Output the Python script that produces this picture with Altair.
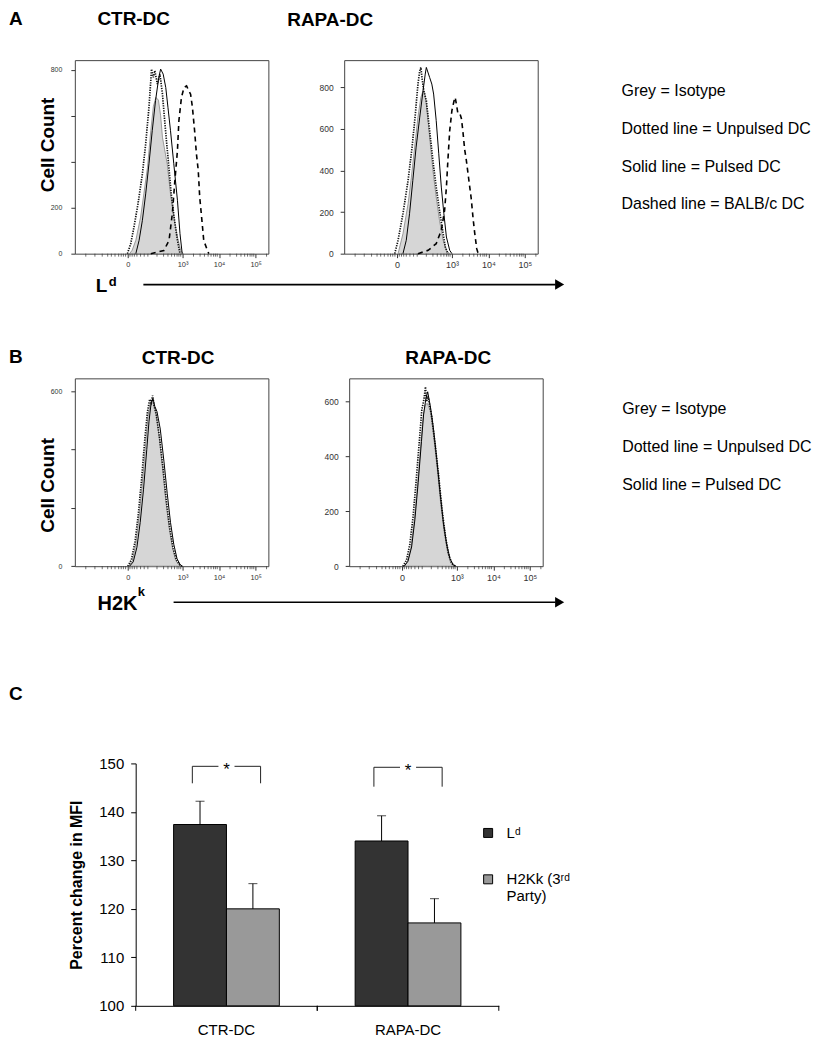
import altair as alt
import pandas as pd

FONT = "Liberation Sans"

# ---------------- histogram data (display position on biexponential axis, cell count) -------------
# Panel A, CTR-DC
a_ctr_iso_u = [1.55, 1.62, 1.72, 1.85, 1.94, 2.04, 2.13, 2.20, 2.27, 2.34, 2.40, 2.45, 2.58, 2.67, 2.76, 2.86, 2.95, 3.02]
a_ctr_iso_n = [0, 15, 58, 159, 260, 376, 535, 640, 680, 668, 600, 506, 391, 260, 159, 72, 14, 0]
a_ctr_unp_u = [1.49, 1.58, 1.67, 1.78, 1.90, 1.99, 2.08, 2.13, 2.15, 2.20, 2.24, 2.31, 2.38, 2.45, 2.51, 2.60, 2.69, 2.78, 2.86, 2.93]
a_ctr_unp_n = [0, 43, 116, 217, 347, 477, 637, 752, 803, 767, 796, 738, 781, 694, 579, 420, 260, 145, 58, 0]
a_ctr_pul_u = [1.72, 1.81, 1.90, 1.99, 2.08, 2.17, 2.26, 2.35, 2.40, 2.47, 2.54, 2.60, 2.67, 2.76, 2.86, 2.93, 2.99]
a_ctr_pul_n = [0, 58, 145, 260, 391, 535, 666, 767, 803, 781, 723, 637, 535, 391, 232, 87, 0]
a_ctr_bal_u = [2.13, 2.49, 2.63, 2.72, 2.79, 2.86, 2.90, 2.97, 3.04, 3.11, 3.17, 3.22, 3.27, 3.33, 3.38, 3.43, 3.47, 3.53, 3.58, 3.68, 3.72]
a_ctr_bal_n = [0, 14, 58, 174, 318, 449, 579, 680, 723, 730, 709, 694, 637, 535, 434, 362, 246, 145, 58, 14, 0]

# Panel A, RAPA-DC
a_rap_iso_u = [1.525, 1.66, 1.80, 1.89, 1.98, 2.07, 2.15, 2.21, 2.25, 2.30, 2.39, 2.48, 2.57, 2.66, 2.76, 2.85, 2.94]
a_rap_iso_n = [0, 96, 240, 368, 512, 656, 751, 783, 775, 719, 560, 400, 272, 160, 64, 16, 0]
a_rap_unp_u = [1.435, 1.525, 1.66, 1.80, 1.91, 2.00, 2.07, 2.12, 2.15, 2.18, 2.23, 2.30, 2.39, 2.48, 2.57, 2.66, 2.76, 2.82, 2.89]
a_rap_unp_n = [0, 64, 192, 352, 512, 672, 815, 879, 895, 847, 783, 735, 591, 448, 320, 208, 96, 32, 0]
a_rap_pul_u = [1.66, 1.75, 1.84, 1.93, 2.02, 2.12, 2.21, 2.27, 2.30, 2.39, 2.45, 2.50, 2.57, 2.64, 2.71, 2.78, 2.85, 2.94, 3.00]
a_rap_pul_n = [0, 64, 192, 352, 512, 656, 783, 863, 895, 847, 815, 767, 640, 480, 320, 192, 80, 16, 0]
a_rap_bal_u = [2.07, 2.35, 2.57, 2.71, 2.80, 2.85, 2.89, 2.94, 3.00, 3.06, 3.09, 3.13, 3.16, 3.21, 3.26, 3.30, 3.35, 3.39, 3.46, 3.53, 3.58, 3.62, 3.68, 3.72]
a_rap_bal_n = [0, 16, 48, 112, 208, 320, 448, 591, 687, 735, 751, 711, 679, 679, 650, 590, 500, 456, 360, 264, 170, 106, 24, 0]

# Panel B, CTR-DC
b_ctr_iso_u = [1.53, 1.63, 1.72, 1.81, 1.90, 1.99, 2.05, 2.11, 2.17, 2.26, 2.35, 2.45, 2.54, 2.63, 2.72, 2.81, 2.90, 2.95]
b_ctr_iso_n = [0, 20, 77, 169, 283, 420, 511, 556, 568, 534, 454, 340, 226, 134, 66, 20, 5, 0]
b_ctr_unp_u = [1.50, 1.60, 1.70, 1.79, 1.88, 1.97, 2.04, 2.10, 2.14, 2.18, 2.22, 2.28, 2.37, 2.47, 2.56, 2.65, 2.74, 2.83, 2.92, 2.98]
b_ctr_unp_n = [0, 22, 85, 180, 300, 440, 530, 572, 560, 585, 550, 520, 440, 330, 220, 130, 62, 22, 5, 0]
b_ctr_pul_u = [1.55, 1.65, 1.75, 1.84, 1.93, 2.02, 2.08, 2.14, 2.19, 2.24, 2.30, 2.39, 2.49, 2.58, 2.67, 2.76, 2.85, 2.94, 3.00]
b_ctr_pul_n = [0, 15, 65, 150, 262, 400, 495, 560, 575, 548, 530, 470, 360, 250, 150, 75, 25, 4, 0]

# Panel B, RAPA-DC
b_rap_iso_u = [1.55, 1.65, 1.74, 1.83, 1.92, 2.01, 2.07, 2.13, 2.19, 2.28, 2.37, 2.47, 2.56, 2.65, 2.74, 2.83, 2.92]
b_rap_iso_n = [0, 18, 67, 164, 297, 442, 539, 588, 594, 564, 467, 345, 224, 127, 55, 12, 0]
b_rap_unp_u = [1.52, 1.62, 1.71, 1.80, 1.89, 1.98, 2.04, 2.10, 2.14, 2.17, 2.21, 2.25, 2.31, 2.40, 2.50, 2.59, 2.68, 2.77, 2.86, 2.95]
b_rap_unp_n = [0, 22, 78, 180, 320, 470, 570, 610, 654, 600, 620, 590, 545, 450, 330, 210, 115, 45, 10, 0]
b_rap_pul_u = [1.56, 1.66, 1.76, 1.85, 1.94, 2.03, 2.09, 2.15, 2.20, 2.25, 2.30, 2.36, 2.45, 2.54, 2.63, 2.72, 2.81, 2.90, 2.98]
b_rap_pul_n = [0, 18, 70, 170, 305, 455, 555, 610, 636, 600, 560, 500, 390, 270, 160, 80, 28, 5, 0]

# axis ticks of the flow-cytometry axis
major_u = [1.5, 3, 4, 5]
major_lab = ["0", "10³", "10⁴", "10⁵"]
minor_u = [0.35, 0.6, 0.8, 0.95, 1.05, 1.15, 1.25, 1.32, 1.38, 1.44, 1.56, 1.62, 1.68, 1.75, 1.85,
           1.95, 2.05, 2.3, 2.48, 2.6, 2.7, 2.78, 2.85, 2.9, 2.95,
           3.30, 3.48, 3.60, 3.70, 3.78, 3.85, 3.90, 3.95,
           4.30, 4.48, 4.60, 4.70, 4.78, 4.85, 4.90, 4.95, 5.30]

legend_a_lines = ["Grey = Isotype", "Dotted line = Unpulsed DC", "Solid line = Pulsed DC", "Dashed line = BALB/c DC"]
legend_b_lines = ["Grey = Isotype", "Dotted line = Unpulsed DC", "Solid line = Pulsed DC"]

# ---------------- panel C data -------------
groups = ["CTR-DC", "RAPA-DC"]
series = ["Ld", "H2Kk"]
ld_mean = [137.4, 134.0]
ld_err = [4.8, 5.2]
h2_mean = [120.0, 117.1]
h2_err = [5.2, 5.0]
bracket_top = [149.4, 149.2]
bracket_foot = [145.9, 145.2]
bar_colors = ["#333333", "#999999"]


# ---------------- helpers -------------
def blank(w, h):
    return alt.Chart(alt.Data(values=[{}])).mark_rect(opacity=0).encode(
        x=alt.value(0), x2=alt.value(w), y=alt.value(0), y2=alt.value(h))


def txt(s, x, y, size=16, weight="normal", align="left", angle=0, baseline="alphabetic"):
    return alt.Chart(alt.Data(values=[{}])).mark_text(
        text=s, font=FONT, fontSize=size, fontWeight=weight, align=align,
        baseline=baseline, angle=angle, color="black"
    ).encode(x=alt.value(x), y=alt.value(y))


def panel(w, h, *layers):
    return alt.layer(blank(w, h), *layers).properties(width=w, height=h)


def arrow(x1, x2, y):
    line = alt.Chart(alt.Data(values=[{}])).mark_rule(color="black", strokeWidth=1.6).encode(
        x=alt.value(x1), x2=alt.value(x2), y=alt.value(y))
    head = alt.Chart(alt.Data(values=[{}])).mark_point(
        shape="triangle-right", filled=True, color="black", opacity=1, size=110).encode(
        x=alt.value(x2 + 4), y=alt.value(y))
    return [line, head]


def xlabel_expr():
    e = "''"
    for v, l in reversed(list(zip(major_u, major_lab))):
        e = f"datum.value == {v} ? '{l}' : ({e})"
    return e


def hist(curves, ymax, yticks, yshown, lab_size, lab_pad, h):
    rows = []
    for name, (us, ns) in curves.items():
        for a, b in zip(us, ns):
            rows.append({"u": a, "n": b, "curve": name})
    df = pd.DataFrame(rows)
    xaxis = alt.Axis(values=major_u, labelExpr=xlabel_expr(), title=None, grid=False, domain=False,
                     tickSize=4, tickColor="#333", labelFontSize=lab_size + 0.5, labelColor="#333",
                     labelPadding=3, labelFont=FONT)
    shown = ",".join(str(v) for v in yshown)
    yaxis = alt.Axis(values=yticks, labelExpr=f"indexof([{shown}], datum.value) >= 0 ? datum.label : ''",
                     title=None, grid=False, domain=False, tickSize=4, tickColor="#333",
                     labelFontSize=lab_size, labelColor="#333", labelPadding=lab_pad, labelFont=FONT)
    xs = alt.Scale(domain=[0.05, 5.35], nice=False, zero=False)
    ys = alt.Scale(domain=[0, ymax], nice=False, zero=False)
    xenc = alt.X("u:Q", scale=xs, axis=xaxis)
    yenc = alt.Y("n:Q", scale=ys, axis=yaxis)
    base = alt.Chart(df)
    layers = [
        base.transform_filter("datum.curve == 'iso'").mark_area(
            fill="#d6d6d6", stroke="#777", strokeWidth=0.7).encode(x=xenc, y=yenc),
        base.transform_filter("datum.curve == 'unp'").mark_line(
            color="#111", strokeWidth=1.7, strokeDash=[1.3, 1.2]).encode(x=xenc, y=yenc),
        base.transform_filter("datum.curve == 'pul'").mark_line(
            color="black", strokeWidth=1.0).encode(x=xenc, y=yenc),
    ]
    if "bal" in curves:
        layers.append(base.transform_filter("datum.curve == 'bal'").mark_line(
            color="black", strokeWidth=1.6, strokeDash=[5, 4]).encode(x=xenc, y=yenc))
    layers.append(alt.Chart(pd.DataFrame({"u": minor_u})).mark_rule(color="#333", strokeWidth=0.7).encode(
        x=xenc, y=alt.value(h), y2=alt.value(h + 3)))
    return alt.layer(*layers).properties(
        width=194, height=h, view=alt.ViewBackground(stroke="#444", strokeWidth=1))


# ---------------- panel A -------------
hA_ctr = hist({"iso": (a_ctr_iso_u, a_ctr_iso_n), "unp": (a_ctr_unp_u, a_ctr_unp_n),
               "pul": (a_ctr_pul_u, a_ctr_pul_n), "bal": (a_ctr_bal_u, a_ctr_bal_n)},
              842, [0, 200, 400, 600, 800], [0, 200, 800], 7, 9, 194)
hA_rap = hist({"iso": (a_rap_iso_u, a_rap_iso_n), "unp": (a_rap_unp_u, a_rap_unp_n),
               "pul": (a_rap_pul_u, a_rap_pul_n), "bal": (a_rap_bal_u, a_rap_bal_n)},
              930, [0, 200, 400, 600, 800], [0, 200, 400, 600, 800], 8.5, 7, 194)

rowA1 = panel(818, 48,
              txt("A", 0, 14.5, 19, "bold"),
              txt("CTR-DC", 125, 14.5, 19, "bold", "center"),
              txt("RAPA-DC", 322, 15.5, 19, "bold", "center"))
rowA2 = alt.hconcat(
    panel(66, 194, txt("Cell Count", 39.5, 85, 19, "bold", "center", 270, "middle")),
    hA_ctr,
    panel(76, 194),
    hA_rap,
    panel(280, 194, *[txt(s, 84, 35.7 + 38 * i, 16) for i, s in enumerate(legend_a_lines)]),
    spacing=0, bounds="flush")
rowA3 = panel(818, 56,
              txt("L", 87, 20.8, 19, "bold"),
              txt("d", 100, 14.2, 13, "bold"),
              *arrow(134.7, 548, 13))

# ---------------- panel B -------------
hB_ctr = hist({"iso": (b_ctr_iso_u, b_ctr_iso_n), "unp": (b_ctr_unp_u, b_ctr_unp_n),
               "pul": (b_ctr_pul_u, b_ctr_pul_n)},
              644, [0, 200, 400, 600], [0, 600], 7, 9, 188.3)
hB_rap = hist({"iso": (b_rap_iso_u, b_rap_iso_n), "unp": (b_rap_unp_u, b_rap_unp_n),
               "pul": (b_rap_pul_u, b_rap_pul_n)},
              685, [0, 200, 400, 600], [0, 200, 400, 600], 8.5, 7, 188.3)

rowB1 = panel(818, 46.7,
              txt("B", 0, 33.3, 19, "bold"),
              txt("CTR-DC", 169.5, 35, 19, "bold", "center"),
              txt("RAPA-DC", 440.3, 35, 19, "bold", "center"))
rowB2 = alt.hconcat(
    panel(66, 188.3, txt("Cell Count", 39, 107.3, 19, "bold", "center", 270, "middle")),
    hB_ctr,
    panel(80.3, 188.3),
    hB_rap,
    panel(275.7, 188.3, *[txt(s, 79.7, 35.8 + 38 * i, 16) for i, s in enumerate(legend_b_lines)]),
    spacing=0, bounds="flush")
rowB3 = panel(818, 97,
              txt("H2K", 88.7, 26.7, 20, "bold"),
              txt("k", 129, 12.4, 13, "bold"),
              *arrow(165, 548, 18.4))

# ---------------- panel C -------------
bar_df = pd.DataFrame({
    "group": groups + groups,
    "series": [series[0]] * 2 + [series[1]] * 2,
    "value": ld_mean + h2_mean,
    "err": ld_err + h2_err,
})
br_rows = []
for g, t, f in zip(groups, bracket_top, bracket_foot):
    br_rows += [{"group": g, "side": series[0], "y": f, "ord": 0},
                {"group": g, "side": series[0], "y": t, "ord": 1},
                {"group": g, "side": series[1], "y": t, "ord": 2},
                {"group": g, "side": series[1], "y": f, "ord": 3}]
br_df = pd.DataFrame(br_rows)
star_df = pd.DataFrame({"group": groups, "y": bracket_top})

xscale = alt.Scale(domain=groups, paddingInner=0, paddingOuter=0)
xaxis = alt.Axis(title=None, labelAngle=0, ticks=False, labelFontSize=15, labelColor="black",
                 labelPadding=17, domainColor="black", labelFont=FONT)
xenc = alt.X("group:N", sort=groups, scale=xscale, axis=xaxis)
xoff = alt.XOffset("series:N", sort=series, scale=alt.Scale(domain=series, paddingInner=0, paddingOuter=0.717))
yscale = alt.Scale(domain=[100, 150], nice=False, zero=False)
yaxis = alt.Axis(values=[100, 110, 120, 130, 140, 150], title="Percent change in MFI", titleFontSize=16,
                 titleFontWeight="bold", titleColor="black", titleFont=FONT, labelFontSize=15,
                 labelColor="black", labelFont=FONT, tickSize=5, tickColor="black", domainColor="black",
                 grid=False, labelPadding=7, titlePadding=14)

bars = alt.Chart(bar_df).mark_bar(stroke="black", strokeWidth=1).encode(
    x=xenc, xOffset=xoff,
    y=alt.Y("value:Q", scale=yscale, axis=yaxis), y2=alt.datum(100),
    fill=alt.Fill("series:N", scale=alt.Scale(domain=series, range=bar_colors),
                  legend=alt.Legend(title=None, orient="none", legendX=472.8, legendY=817.2, padding=0,
                                    symbolType="square", symbolSize=81, symbolStrokeColor="black",
                                    symbolStrokeWidth=1, labelFontSize=15, labelFont=FONT,
                                    labelColor="black", labelOffset=11, rowPadding=30.5,
                                    labelExpr="datum.value == 'Ld' ? 'Lᵈ' : ['H2Kk (3ʳᵈ', 'Party)']")))
errs = alt.Chart(bar_df).transform_calculate(upper="datum.value + datum.err").mark_rule(
    color="black", strokeWidth=1).encode(
    x=xenc, xOffset=xoff, y=alt.Y("value:Q", scale=yscale, axis=yaxis), y2="upper:Q")
caps = alt.Chart(bar_df).transform_calculate(upper="datum.value + datum.err").mark_tick(
    color="black", thickness=1, size=9).encode(
    x=xenc, xOffset=xoff, y=alt.Y("upper:Q", scale=yscale, axis=yaxis))
bracket = alt.Chart(br_df).mark_line(color="#222", strokeWidth=1).encode(
    x=xenc,
    xOffset=alt.XOffset("side:N", sort=series, scale=alt.Scale(domain=series, paddingOuter=0.83)),
    y=alt.Y("y:Q", scale=yscale, axis=yaxis), order="ord:Q", detail="group:N")
gaps = alt.Chart(star_df).mark_point(shape="square", filled=True, color="white", opacity=1, size=260).encode(
    x=xenc, y=alt.Y("y:Q", scale=yscale, axis=yaxis))
stars = alt.Chart(star_df).mark_text(text="*", fontSize=17, font=FONT, baseline="middle", dy=4, color="black").encode(
    x=xenc, y=alt.Y("y:Q", scale=yscale, axis=yaxis))
tick_df = pd.DataFrame({"group": groups})
tick0 = alt.Chart(tick_df).mark_rule(color="black").encode(
    x=alt.X("group:N", sort=groups, scale=xscale, axis=xaxis, bandPosition=0),
    y=alt.value(243), y2=alt.value(248))
tick1 = alt.Chart(tick_df).mark_rule(color="black").encode(
    x=alt.X("group:N", sort=groups, scale=xscale, axis=xaxis, bandPosition=1),
    y=alt.value(243), y2=alt.value(248))

barchart = alt.layer(bars, errs, caps, bracket, gaps, stars, tick0, tick1).resolve_scale(
    xOffset="independent").properties(width=364, height=243)

rowC1 = panel(818, 72.3, txt("C", 0, 17, 19, "bold"))
rowC2 = alt.hconcat(panel(126.3, 243), barchart, spacing=0, bounds="flush")

chart = alt.vconcat(rowA1, rowA2, rowA3, rowB1, rowB2, rowB3, rowC1, rowC2,
                    spacing=0, bounds="full").properties(padding=0)
chart = chart.configure(font=FONT).configure_view(stroke="transparent")

chart.save("out.html", embed_options={"renderer": "svg", "actions": False})
